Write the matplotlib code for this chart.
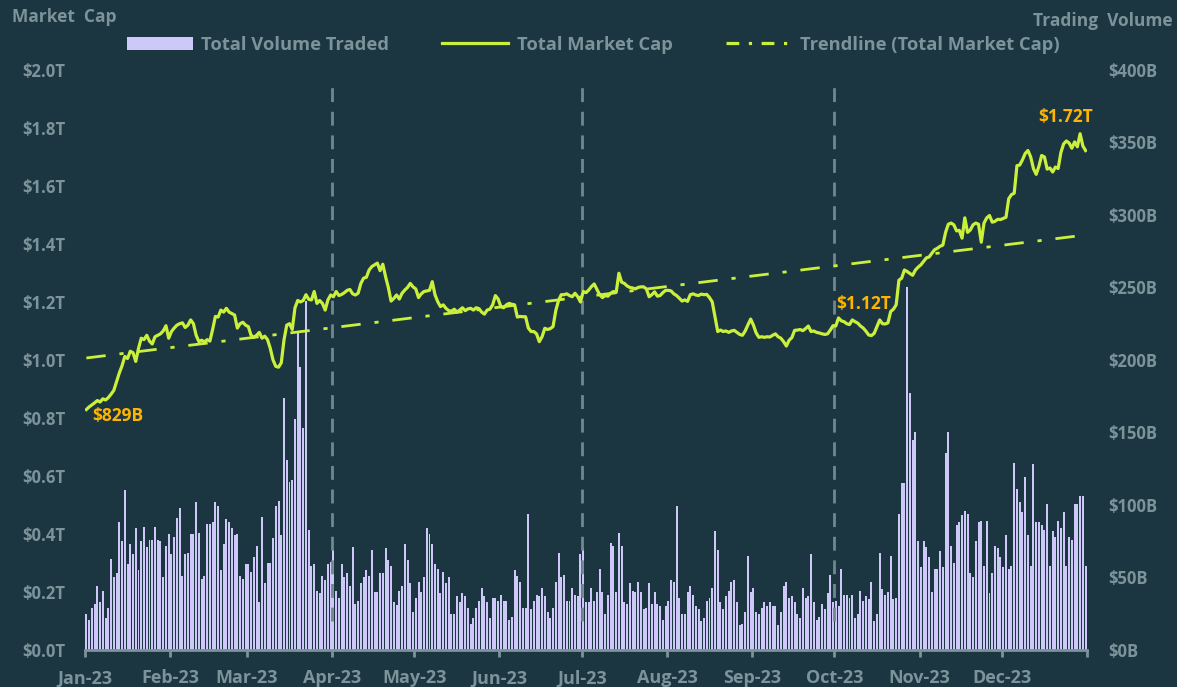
import numpy as np
import matplotlib
matplotlib.use("Agg")
import matplotlib.pyplot as plt
from matplotlib.patches import Patch
from matplotlib.lines import Line2D

# month labels and lengths (2023)
months = ['Jan-23', 'Feb-23', 'Mar-23', 'Apr-23', 'May-23', 'Jun-23',
          'Jul-23', 'Aug-23', 'Sep-23', 'Oct-23', 'Nov-23', 'Dec-23']
month_days = [31, 28, 31, 30, 31, 30, 31, 31, 30, 31, 30, 31]
quarter_marks = ['Apr-23', 'Jul-23', 'Oct-23']

# daily total volume traded, $B
vol_jan = [25, 21, 29, 32, 44, 33, 41, 22, 29, 63, 50, 53, 88, 75, 110, 59, 73, 66, 84, 55, 75, 85, 71, 76, 76, 85, 76, 75, 50, 72, 80]
vol_feb = [66, 78, 91, 98, 51, 66, 67, 80, 80, 102, 81, 49, 51, 87, 87, 88, 102, 99, 55, 73, 90, 88, 84, 79, 80, 51, 49, 59]
vol_mar = [59, 54, 64, 72, 33, 92, 46, 60, 60, 77, 99, 103, 79, 174, 131, 116, 117, 159, 220, 195, 153, 241, 83, 58, 59, 41, 39, 51, 48, 59, 61]
vol_apr = [69, 41, 36, 59, 50, 53, 44, 71, 32, 34, 46, 50, 55, 51, 69, 40, 40, 53, 53, 70, 62, 58, 33, 31, 41, 44, 73, 62, 46, 26]
vol_may = [36, 47, 40, 50, 84, 80, 73, 59, 56, 39, 54, 46, 50, 25, 25, 37, 33, 39, 37, 29, 18, 22, 29, 34, 43, 37, 33, 22, 36, 36, 34]
vol_jun = [38, 34, 34, 21, 23, 55, 51, 47, 29, 29, 94, 28, 34, 38, 37, 43, 37, 26, 22, 29, 47, 67, 50, 52, 34, 34, 43, 38, 37, 66]
vol_jul = [70, 33, 33, 43, 34, 40, 56, 40, 25, 38, 74, 72, 40, 81, 72, 33, 32, 46, 41, 40, 47, 40, 28, 29, 46, 32, 40, 32, 30, 21, 30]
vol_aug = [34, 48, 47, 99, 36, 25, 25, 40, 44, 38, 30, 28, 20, 22, 34, 36, 43, 82, 69, 33, 28, 37, 41, 47, 48, 33, 17, 18, 26, 65, 40]
vol_sep = [43, 26, 25, 29, 33, 30, 33, 30, 30, 17, 26, 44, 47, 36, 37, 33, 25, 22, 43, 36, 37, 66, 33, 21, 23, 32, 28, 39, 52, 33]
vol_oct = [34, 30, 56, 38, 38, 36, 38, 22, 25, 41, 34, 37, 35, 47, 20, 25, 67, 42, 38, 40, 65, 35, 36, 94, 115, 115, 250, 177, 145, 150, 75]
vol_nov = [57, 75, 71, 64, 40, 56, 56, 68, 57, 136, 150, 72, 60, 86, 88, 93, 96, 94, 53, 50, 75, 88, 89, 58, 89, 39, 53, 72, 70, 64]
vol_dec = [57, 79, 56, 58, 129, 111, 102, 95, 119, 79, 58, 128, 88, 88, 86, 83, 101, 58, 82, 78, 89, 84, 95, 58, 78, 76, 101, 101, 106, 106, 58]

# daily total market cap, $T
cap_jan = [0.829, 0.838, 0.845, 0.852, 0.860, 0.855, 0.866, 0.862, 0.870, 0.882, 0.895, 0.925, 0.955, 0.980, 1.012, 1.005,
           1.030, 1.025, 0.995, 1.040, 1.075, 1.070, 1.085, 1.065, 1.055, 1.080, 1.085, 1.090, 1.100, 1.118, 1.075]
cap_feb = [1.098, 1.110, 1.120, 1.125, 1.128, 1.112, 1.120, 1.138, 1.125, 1.085, 1.063, 1.068, 1.062, 1.070, 1.065, 1.105,
           1.150, 1.148, 1.172, 1.165, 1.178, 1.165, 1.160, 1.155, 1.110, 1.125, 1.130, 1.120]
cap_mar = [1.115, 1.085, 1.078, 1.085, 1.095, 1.075, 1.082, 1.070, 1.040, 1.000, 0.978, 0.975, 0.990, 1.069, 1.120, 1.125,
           1.105, 1.180, 1.205, 1.200, 1.205, 1.225, 1.209, 1.207, 1.236, 1.195, 1.205, 1.195, 1.172, 1.207, 1.224]
cap_apr = [1.218, 1.236, 1.222, 1.226, 1.232, 1.240, 1.243, 1.228, 1.224, 1.230, 1.264, 1.282, 1.285, 1.310, 1.322, 1.328,
           1.334, 1.308, 1.330, 1.287, 1.250, 1.203, 1.212, 1.224, 1.210, 1.230, 1.241, 1.250, 1.264, 1.252]
cap_may = [1.245, 1.215, 1.228, 1.236, 1.238, 1.240, 1.270, 1.225, 1.201, 1.184, 1.190, 1.178, 1.170, 1.168, 1.175, 1.165,
           1.172, 1.180, 1.170, 1.176, 1.178, 1.172, 1.180, 1.177, 1.165, 1.158, 1.172, 1.175, 1.190, 1.222, 1.210]
cap_jun = [1.184, 1.180, 1.190, 1.195, 1.192, 1.190, 1.148, 1.150, 1.149, 1.149, 1.110, 1.098, 1.098, 1.090, 1.063, 1.080,
           1.109, 1.105, 1.108, 1.115, 1.170, 1.205, 1.225, 1.225, 1.228, 1.222, 1.218, 1.230, 1.218, 1.200]
cap_jul = [1.236, 1.232, 1.241, 1.253, 1.262, 1.243, 1.225, 1.215, 1.222, 1.220, 1.230, 1.236, 1.233, 1.299, 1.268, 1.264,
           1.255, 1.250, 1.248, 1.245, 1.250, 1.252, 1.252, 1.245, 1.218, 1.225, 1.235, 1.220, 1.222, 1.232, 1.240]
cap_aug = [1.240, 1.238, 1.228, 1.222, 1.213, 1.203, 1.207, 1.202, 1.225, 1.228, 1.224, 1.222, 1.227, 1.225, 1.226, 1.215,
           1.200, 1.150, 1.098, 1.103, 1.098, 1.100, 1.095, 1.100, 1.102, 1.095, 1.088, 1.085, 1.100, 1.121, 1.141]
cap_sep = [1.120, 1.093, 1.078, 1.080, 1.078, 1.080, 1.079, 1.085, 1.090, 1.080, 1.075, 1.063, 1.048, 1.068, 1.077, 1.102,
           1.103, 1.105, 1.101, 1.108, 1.117, 1.098, 1.100, 1.095, 1.093, 1.090, 1.088, 1.090, 1.103, 1.118]
cap_oct = [1.117, 1.145, 1.135, 1.132, 1.125, 1.122, 1.138, 1.132, 1.127, 1.117, 1.110, 1.099, 1.086, 1.084, 1.092, 1.115,
           1.138, 1.125, 1.124, 1.128, 1.167, 1.175, 1.190, 1.275, 1.282, 1.310, 1.305, 1.298, 1.292, 1.310, 1.320]
cap_nov = [1.328, 1.340, 1.352, 1.355, 1.368, 1.380, 1.385, 1.392, 1.396, 1.440, 1.468, 1.472, 1.466, 1.445, 1.447, 1.420,
           1.490, 1.440, 1.448, 1.466, 1.472, 1.468, 1.406, 1.472, 1.490, 1.498, 1.475, 1.478, 1.485, 1.484]
cap_dec = [1.488, 1.492, 1.556, 1.570, 1.575, 1.670, 1.672, 1.690, 1.712, 1.722, 1.700, 1.660, 1.640, 1.668, 1.705, 1.700,
           1.658, 1.662, 1.648, 1.665, 1.660, 1.715, 1.745, 1.755, 1.748, 1.730, 1.752, 1.735, 1.780, 1.738, 1.722]

cap_ticks = [0.0, 0.2, 0.4, 0.6, 0.8, 1.0, 1.2, 1.4, 1.6, 1.8, 2.0]
vol_ticks = [0, 50, 100, 150, 200, 250, 300, 350, 400]

BG = '#1b3541'
GREY = '#7d939a'
BAR = '#cdc8f8'
LINE = '#cbf03c'
ORANGE = '#ffb500'
VLINE = '#71878e'

plt.rcParams['font.family'] = ['Open Sans', 'DejaVu Sans']
plt.rcParams['font.weight'] = 'bold'

volume = np.concatenate([vol_jan, vol_feb, vol_mar, vol_apr, vol_may, vol_jun,
                         vol_jul, vol_aug, vol_sep, vol_oct, vol_nov, vol_dec])
cap = np.concatenate([cap_jan, cap_feb, cap_mar, cap_apr, cap_may, cap_jun,
                      cap_jul, cap_aug, cap_sep, cap_oct, cap_nov, cap_dec])
days = np.arange(len(cap)) + 0.5
month_start = np.concatenate([[0], np.cumsum(month_days)])

# linear trend of market cap
slope, intercept = np.polyfit(days, cap, 1)
trend = slope * days + intercept

fig = plt.figure(figsize=(11.77, 6.87), dpi=100, facecolor=BG)
ax = fig.add_axes([0.0722, 0.0539, 0.8513, 0.8443])
ax.set_facecolor(BG)
ax2 = ax.twinx()

# volume bars -> right axis
ax.bar(days, volume, width=0.72, color=BAR, zorder=2)
ax.set_ylim(0, 400)
ax.set_xlim(0, month_start[-1])
ax.yaxis.tick_right()
ax.set_yticks(vol_ticks)
ax.set_yticklabels(['$%dB' % v for v in vol_ticks])

# market cap -> left axis
ax2.yaxis.tick_left()
ax2.set_ylim(0, 2.0)
ax2.set_yticks(cap_ticks)
ax2.set_yticklabels(['$%.1fT' % v for v in cap_ticks])

for m in quarter_marks:
    xq = month_start[months.index(m)]
    ax2.plot([xq, xq], [0.10, 1.95], color=VLINE, lw=2, ls=(0, (5, 3.5)), zorder=1)

ax2.plot(days, trend, color=LINE, lw=2, ls=(0, (7, 5, 1.5, 5)), zorder=3)
ax2.plot(days, cap, color=LINE, lw=2.3, zorder=4)

# value callouts
ann = dict(color=ORANGE, fontsize=12.5, fontweight='bold')
ax2.annotate('$%dB' % round(cap[0] * 1000), (days[0], cap[0]), xytext=(4, -5),
             textcoords='offset points', ha='left', va='center', **ann)
i_oct = month_start[months.index('Oct-23')]
ax2.annotate('$%.2fT' % cap[i_oct], (days[i_oct], cap[i_oct]), xytext=(0, 16),
             textcoords='offset points', ha='left', va='center', **ann)
ax2.annotate('$%.2fT' % cap[-1], (days[-1], cap[-1]), xytext=(5, 24),
             textcoords='offset points', ha='right', va='center', **ann)

for a in (ax, ax2):
    for s in ('top', 'left', 'right'):
        a.spines[s].set_visible(False)
    a.spines['bottom'].set_color(GREY)
    a.spines['bottom'].set_linewidth(2)
    a.tick_params(axis='y', length=0, colors=GREY, labelsize=12)
ax2.spines['bottom'].set_visible(False)
ax.tick_params(axis='y', pad=15)
ax2.tick_params(axis='y', pad=14)

ax.set_xticks(month_start[:-1] + 0.0)
ax.set_xticklabels(months)
ax.set_xticks([month_start[-1]], minor=True)
ax.tick_params(axis='x', which='both', colors=GREY, length=5, width=2, labelsize=13, pad=9)

fig.text(0.010, 0.975, 'Market  Cap', color=GREY, fontsize=12.5, ha='left', va='center')
fig.text(0.996, 0.970, 'Trading  Volume', color=GREY, fontsize=12.5, ha='right', va='center')

handles = [Patch(facecolor=BAR, edgecolor='none'),
           Line2D([], [], color=LINE, lw=2.3),
           Line2D([], [], color=LINE, lw=2.3, ls=(0, (4, 3, 1, 3)))]
labels = ['Total Volume Traded', 'Total Market Cap', 'Trendline (Total Market Cap)']
leg = fig.legend(handles, labels, loc='center', bbox_to_anchor=(0.504, 0.935), ncol=3,
                 frameon=False, fontsize=13.2, handlelength=3.6, handleheight=0.75,
                 columnspacing=2.9, handletextpad=0.45)
for t in leg.get_texts():
    t.set_color(GREY)

fig.savefig('out.png', dpi=100, facecolor=BG)
